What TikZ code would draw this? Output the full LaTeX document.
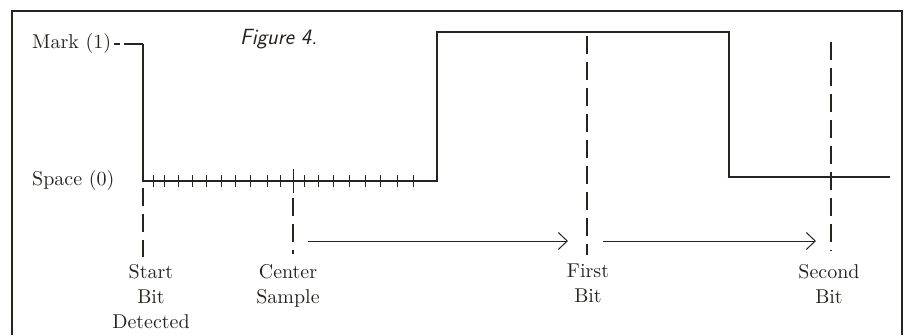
\documentclass[tikz,border=0pt]{standalone}
\usepackage{fontspec}
\newfontfamily\capfont{lmroman10-regular}[Extension=.otf]
\usetikzlibrary{arrows.meta}
\definecolor{ink}{RGB}{40,35,30}
\tikzset{
	frame/.style={draw=ink, line width=1.4pt},
	sig/.style={draw=ink, line width=1.1pt},
	tickmark/.style={draw=ink, line width=0.9pt},
	bitline/.style={draw=ink, line width=1.1pt, dash pattern=on 18pt off 8pt},
	timearrow/.style={draw=ink, line width=1pt, -{Straight Barb[length=9pt,width=17pt,line width=1pt]}},
	lbl/.style={text=ink, inner sep=0pt, font=\capfont\fontsize{20}{25}\selectfont},
}
\begin{document}
\begin{tikzpicture}[x=1pt, y=-1pt]
		\useasboundingbox (0,0) rectangle (909,335);
		% frame, open at the bottom
		\draw[frame] (12,335) -- (12,11) -- (902,11) -- (902,335);
		\node[lbl, anchor=base west, font=\fontsize{22}{24}\sffamily\itshape] (fig) at (240,44) {Figure 4.};
		
		% levels
		\node[lbl, anchor=west] (mark) at (32,43) {Mark (1)};
		\node[lbl, anchor=west] (space) at (32,180) {Space (0)};
		\coordinate (m0) at (143,44);
		\draw[sig, dash pattern=on 6pt off 4pt on 30pt] ([xshift=3pt]mark.east |- m0) -- (m0);
		
		% waveform
		\draw[sig] (m0) -- (143,181) -- (437,181) -- (437,32) -- (729,32) -- (729,177) -- (890,177);
		
		% sample clock ticks
		\foreach \x in {153,164,178,192,206,221,235,250,267,280,304,318,333,349,365,380,397,413}
			\draw[tickmark] (\x,175) -- (\x,187);
		\draw[tickmark] (293,169) -- (293,193);
		
		% sample points
		\coordinate (sb) at (143,257);
		\coordinate (cs) at (293,241);
		\coordinate (fb) at (587,241);
		\coordinate (sc) at (831,241);
		\draw[bitline] (143,188) -- (sb);
		\draw[bitline] (293,198) -- (293,254);
		\draw[bitline] (587,36) -- (587,255);
		\draw[bitline] (831,42) -- (831,251);
		
		% bit times
		\draw[timearrow] ([xshift=15pt]cs) -- ([xshift=-19pt]fb);
		\draw[timearrow] ([xshift=16pt]fb) -- ([xshift=-15pt]sc);
		
		% captions
		\node[lbl, anchor=north, align=center] (start) at (151,264) {Start\\Bit\\Detected};
		\node[lbl, anchor=north, align=center] (center) at (288,264) {Center\\Sample};
		\node[lbl, anchor=north, align=center] (first) at (588,264) {First\\Bit};
		\node[lbl, anchor=north, align=center] (second) at (829,264) {Second\\Bit};
	\end{tikzpicture}
\end{document}
